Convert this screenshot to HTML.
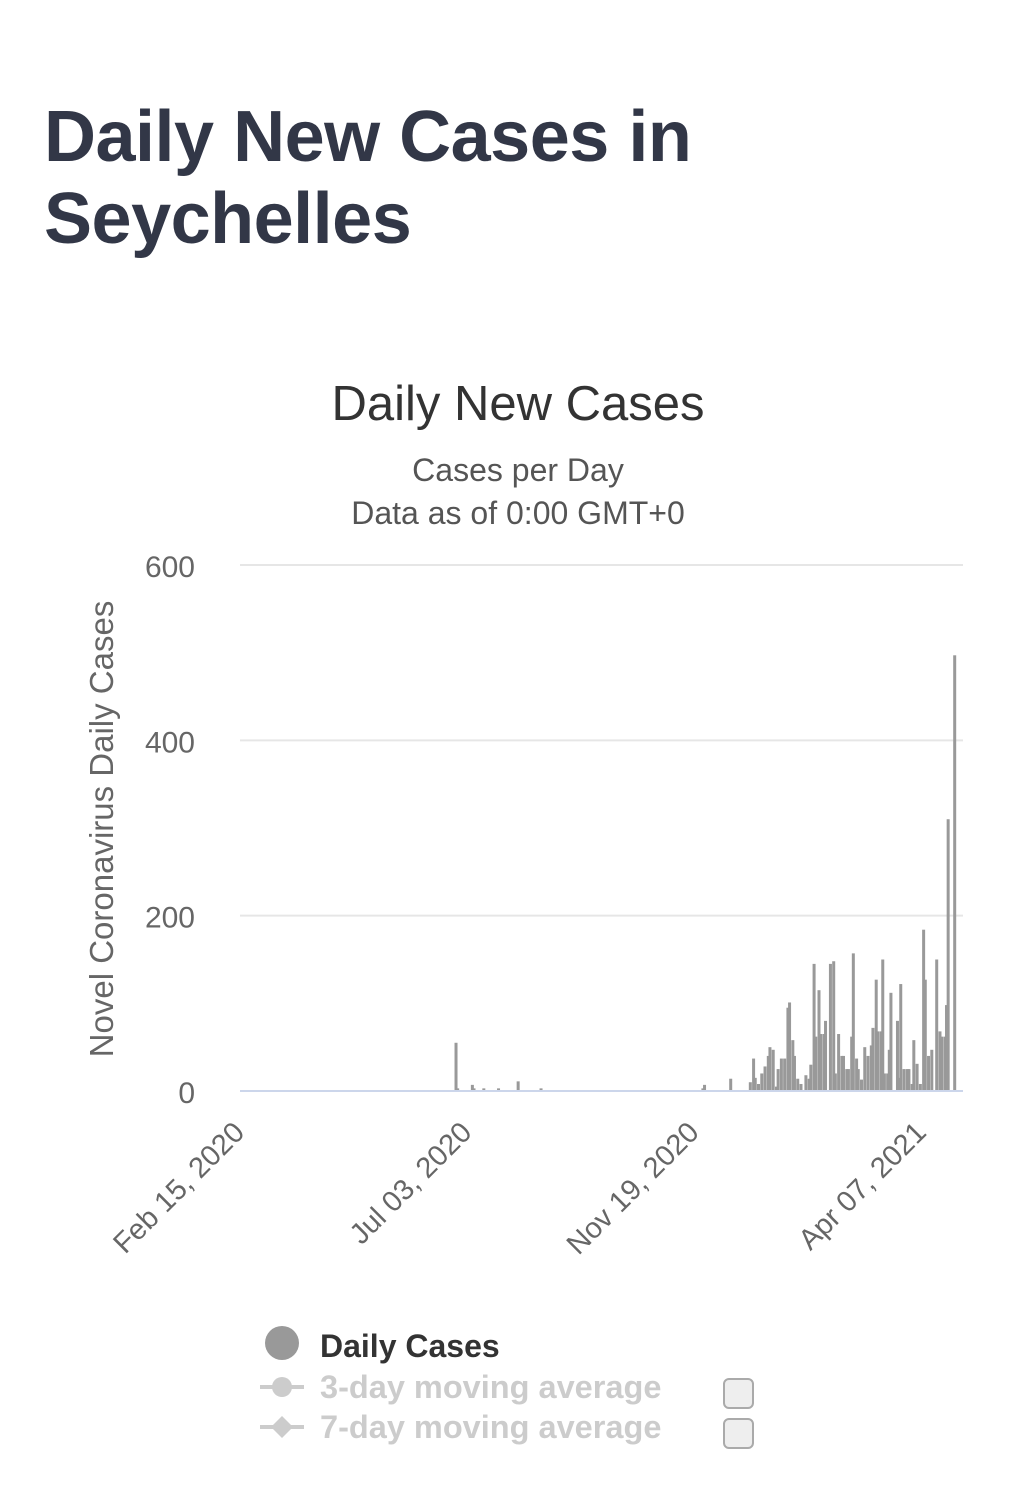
<!DOCTYPE html>
<html><head><meta charset="utf-8"><style>
body{margin:0;width:1036px;height:1494px;background:#fff;font-family:"Liberation Sans",sans-serif;overflow:hidden;position:relative}
h1{position:absolute;left:44px;top:96px;margin:0;font-size:72px;line-height:82px;font-weight:bold;color:#323747;letter-spacing:-0.5px}
svg{position:absolute;left:0;top:0}
</style></head><body>
<h1>Daily New Cases in<br>Seychelles</h1>
<svg id="chart" width="1036" height="1494"></svg>
<script>
const dayIndex=[132,133,142,143,149,158,170,184,283,284,300,312,314,315,317,319,321,323,324,326,328,329,331,333,335,336,338,339,341,343,346,348,349,351,352,354,355,357,358,361,363,364,366,368,369,371,372,374,375,377,378,380,382,384,386,387,389,390,392,393,394,396,397,398,402,403,404,406,408,409,411,412,414,416,418,419,421,423,426,428,429,431,432,433,437];
const dailyCases=[55,3,7,3,3,3,11,3,3,7,14,10,37,15,8,20,28,40,50,47,5,25,37,37,95,101,58,40,14,8,18,14,30,145,62,115,65,65,80,145,148,20,65,40,40,25,25,62,157,37,25,13,50,40,52,72,127,68,68,150,20,20,47,112,80,15,122,25,25,25,8,58,31,8,184,127,40,47,150,68,62,62,98,310,497];
const yTicks=[0,200,400,600];
const xTickDays=[0,139,278,417];
const xTickLabels=["Feb 15, 2020","Jul 03, 2020","Nov 19, 2020","Apr 07, 2021"];
const svg=document.getElementById('chart');
const NS='http://www.w3.org/2000/svg';
const x0=240,x1=963,y0=1091,yTop=565;
const xs=d=>x0+d*1.635;
const ys=v=>y0-(v/600)*(y0-yTop);
function mk(t,a,txt){const e=document.createElementNS(NS,t);for(const k in a)e.setAttribute(k,a[k]);if(txt!==undefined)e.textContent=txt;svg.appendChild(e);return e;}
let e;
e=mk('text',{x:518,y:420,'text-anchor':'middle','font-size':49,fill:'#333'},'Daily New Cases');


e=mk('text',{x:518,y:481,'text-anchor':'middle','font-size':32,fill:'#555'},'Cases per Day');


e=mk('text',{x:518,y:524,'text-anchor':'middle','font-size':32,fill:'#555'},'Data as of 0:00 GMT+0');


e=mk('text',{x:0,y:0,transform:'translate(113,829) rotate(-90)','text-anchor':'middle','font-size':33,fill:'#666'},'Novel Coronavirus Daily Cases');


yTicks.forEach(v=>{
 e=mk('line',{x1:x0,x2:x1,y1:ys(v),y2:ys(v),stroke:v===0?'#ccd6eb':'#e6e6e6','stroke-width':2});
 
 
 e=mk('text',{x:195,y:ys(v)+12,'text-anchor':'end','font-size':30,fill:'#666'},String(v));
 
 
});
xTickDays.forEach((d,i)=>{
 const x=xs(d);
 e=mk('text',{x:0,y:0,transform:`translate(${x+6},${1134}) rotate(-45)`,'text-anchor':'end','font-size':29,fill:'#666'},xTickLabels[i]);
 
 
});
dayIndex.forEach((d,i)=>{
 const y=ys(dailyCases[i]);
 e=mk('rect',{x:xs(d)-1.3,y:y,width:3,height:y0-1-y,fill:'#999'});
 
 
});
e=mk('circle',{cx:282,cy:1343,r:17,fill:'#999'});


e=mk('text',{x:320,y:1357,'font-size':32,'font-weight':'bold',fill:'#333'},'Daily Cases');


[[1387,'3-day moving average','circle'],[1427,'7-day moving average','diamond']].forEach(([y,t,s])=>{
 e=mk('line',{x1:260,x2:304,y1:y,y2:y,stroke:'#ccc','stroke-width':4});
 
 
 if(s==='circle')e=mk('circle',{cx:282,cy:y,r:10,fill:'#ccc'});
 else e=mk('path',{d:`M282 ${y-11}L293 ${y}L282 ${y+11}L271 ${y}Z`,fill:'#ccc'});
 
 
 e=mk('text',{x:320,y:y+11,'font-size':32.5,'font-weight':'bold',fill:'#ccc'},t);
 
 
 e=mk('rect',{x:724,y:y-8,width:29,height:29,rx:5,fill:'#eee',stroke:'#aaa','stroke-width':2});
 
 
});
</script>
</body></html>
